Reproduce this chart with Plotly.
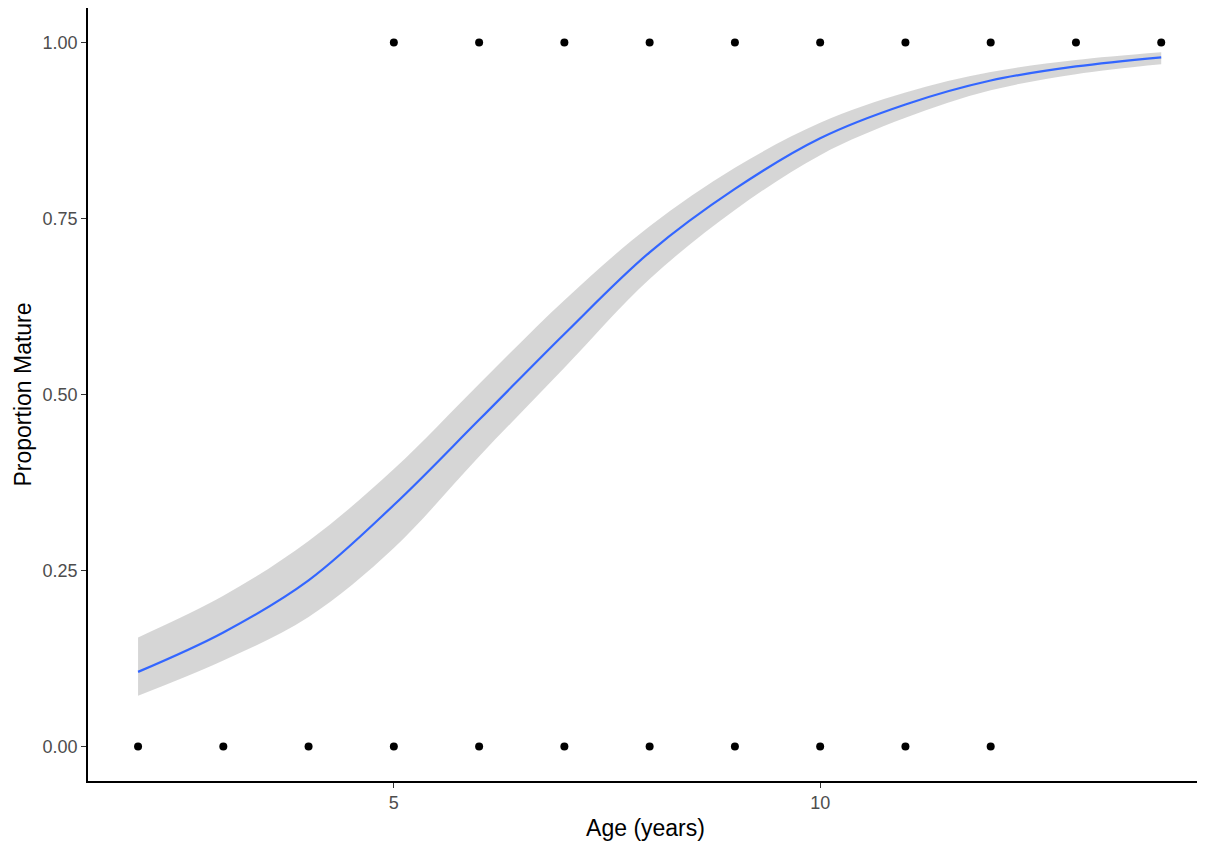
import plotly.graph_objects as go

# Observations (binary maturity)
obs_age_immature = [2, 3, 4, 5, 6, 7, 8, 9, 10, 11, 12]
obs_age_mature = [5, 6, 7, 8, 9, 10, 11, 12, 13, 14]

# Fitted logistic curve and 95% CI
fit_age = [2, 3, 4, 5, 6, 7, 8, 9, 10, 11, 12, 13, 14]
fit_mean = [0.106, 0.162, 0.236, 0.343, 0.464, 0.586, 0.702, 0.792, 0.864, 0.912, 0.946, 0.966, 0.979]
fit_upper = [0.155, 0.214, 0.292, 0.394, 0.515, 0.634, 0.739, 0.822, 0.886, 0.929, 0.958, 0.975, 0.986]
fit_lower = [0.072, 0.122, 0.184, 0.282, 0.412, 0.538, 0.664, 0.762, 0.840, 0.893, 0.932, 0.955, 0.969]

x_ticks = [5, 10]
y_ticks = [0.0, 0.25, 0.5, 0.75, 1.0]

fig = go.Figure()
fig.add_trace(go.Scatter(x=fit_age, y=fit_upper, mode="lines", line=dict(width=0, shape="spline"),
                         showlegend=False, hoverinfo="skip"))
fig.add_trace(go.Scatter(x=fit_age, y=fit_lower, mode="lines", line=dict(width=0, shape="spline"),
                         fill="tonexty", fillcolor="rgba(153,153,153,0.4)", showlegend=False, hoverinfo="skip"))
fig.add_trace(go.Scatter(x=fit_age, y=fit_mean, mode="lines", line=dict(color="#3366FF", width=2.2, shape="spline"),
                         showlegend=False))
fig.add_trace(go.Scatter(x=obs_age_immature, y=[0] * len(obs_age_immature), mode="markers",
                         marker=dict(color="black", size=8), showlegend=False))
fig.add_trace(go.Scatter(x=obs_age_mature, y=[1] * len(obs_age_mature), mode="markers",
                         marker=dict(color="black", size=8), showlegend=False))

fig.update_layout(
    width=1197, height=835,
    margin=dict(l=80, r=2, t=0, b=62),
    plot_bgcolor="white", paper_bgcolor="white",
    font=dict(family="Liberation Sans, Arial, sans-serif", color="black"),
    xaxis=dict(range=[1.413, 14.49], tickvals=x_ticks, ticktext=[str(v) for v in x_ticks],
               showgrid=False, zeroline=False, showline=True, linecolor="black", linewidth=1.5,
               ticks="outside", ticklen=5, tickcolor="#333333", tickwidth=1,
               tickfont=dict(size=18, color="#4D4D4D"),
               title=dict(text="Age (years)", font=dict(size=23, color="black"), standoff=8)),
    yaxis=dict(range=[-0.049, 1.049], tickvals=y_ticks, ticktext=[f"{v:.2f}" for v in y_ticks],
               showgrid=False, zeroline=False, showline=True, linecolor="black", linewidth=1.5,
               ticks="outside", ticklen=5, tickcolor="#333333", tickwidth=1,
               tickfont=dict(size=18, color="#4D4D4D"),
               title=dict(text="Proportion Mature", font=dict(size=23, color="black"), standoff=5)),
)

fig.write_html("out.html")
